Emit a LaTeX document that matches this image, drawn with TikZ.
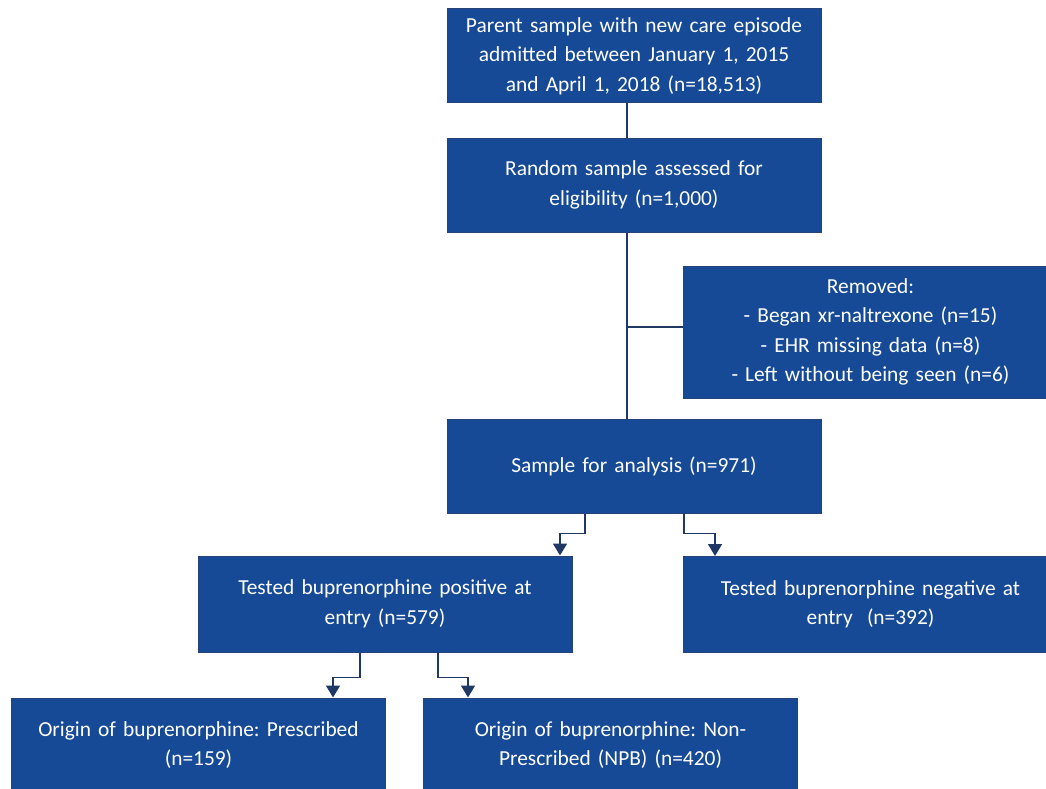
\documentclass[tikz,border=0pt]{standalone}
\usepackage{fontspec}
\setmainfont{Carlito}
\usetikzlibrary{arrows.meta}
\definecolor{boxfill}{RGB}{22,74,150}
\definecolor{boxline}{RGB}{38,66,120}
\definecolor{connc}{RGB}{31,56,100}
\frenchspacing
\begin{document}
\begin{tikzpicture}[x=1pt,y=-1pt,
  box/.style={draw=boxline, line width=1pt, fill=boxfill, text=white,
    minimum width=374pt, minimum height=94pt, text width=366pt, align=center,
    inner sep=0pt, font=\fontsize{21.4}{29.5}\selectfont},
  conn/.style={draw=connc, line width=1.6pt},
  arr/.style={conn, -{Triangle[width=14pt,length=12pt]}}]
\useasboundingbox (0,0) rectangle (1046,789);
\clip (0,0) rectangle (1046,789);
\node[box] (parent) at (634,56) {Parent sample with new care episode\\admitted between January 1, 2015\\and April 1, 2018 (n=18,513)};
\node[box] (random) at (634,185) {Random sample assessed for\\eligibility (n=1,000)};
\node[box, minimum height=132pt] (removed) at (870.5,332) {Removed:\\- Began xr-naltrexone (n=15)\\- EHR missing data (n=8)\\- Left without being seen (n=6)};
\node[box] (sample) at (634,466) {Sample for analysis (n=971)};
\node[box, minimum height=96pt] (pos) at (385,604) {Tested buprenorphine positive at\\entry (n=579)};
\node[box, minimum height=96pt] (neg) at (870.5,604.5) {Tested buprenorphine negative at\\entry~~(n=392)};
\node[box] (presc) at (198.5,745) {Origin of buprenorphine: Prescribed\\(n=159)};
\node[box] (npb) at (610.5,745) {Origin of buprenorphine: Non-\\Prescribed (NPB) (n=420)};
\draw[conn] ([xshift=-7pt]parent.south) -- ([xshift=-7pt]random.north);
\draw[conn] ([xshift=-7pt]random.south) -- ([xshift=-7pt]sample.north);
\coordinate (j) at (627,327);
\draw[conn] (j) -- (j -| removed.west);
\draw[arr] ([xshift=-49pt]sample.south) -- ++(0,20) -| ([xshift=175pt]pos.north);
\draw[arr] ([xshift=50pt]sample.south) -- ++(0,20) -| ([xshift=-155.5pt]neg.north);
\draw[arr] ([xshift=-25pt]pos.south) -- ++(0,25) -| ([xshift=134.5pt]presc.north);
\draw[arr] ([xshift=53pt]pos.south) -- ++(0,25) -| ([xshift=-142.5pt]npb.north);
\end{tikzpicture}
\end{document}
